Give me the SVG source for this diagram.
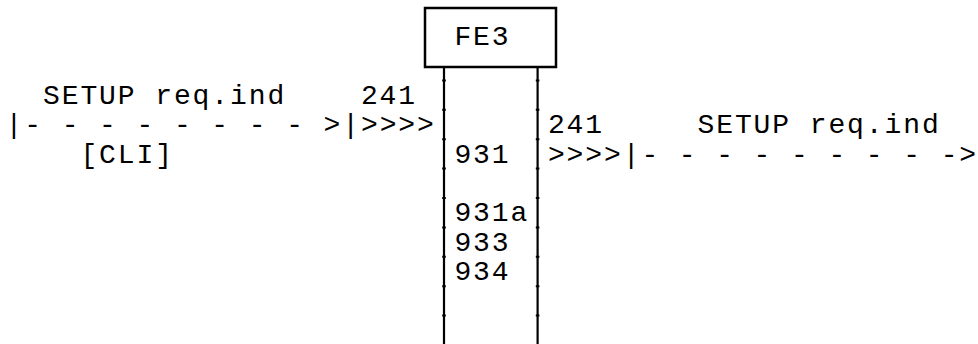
<svg xmlns="http://www.w3.org/2000/svg" width="978" height="344" viewBox="0 0 978 344">
<style>
text{font-family:"Liberation Mono","DejaVu Sans Mono",monospace;font-size:28px;letter-spacing:1.9px;fill:#000;white-space:pre}
.box{fill:#fff;stroke:#000;stroke-width:2.5}
.life{stroke:#000;stroke-width:2.2;fill:none}
.tick{stroke:#000;stroke-width:3.6;fill:none;stroke-dasharray:2 27.4;stroke-dashoffset:-12.4}
</style>
<rect width="978" height="344" fill="#fff"/>
<g id="FE3">
<rect class="box" x="425" y="8" width="131" height="59"/>
<text x="454.4" y="45">FE3</text>
<line class="life" x1="444" y1="67" x2="444" y2="344"/>
<line class="life" x1="537.6" y1="67" x2="537.6" y2="344"/>
<line class="tick" x1="444" y1="67" x2="444" y2="344"/>
<line class="tick" x1="537.6" y1="67" x2="537.6" y2="344"/>
<text x="454.4" y="162.6">931</text>
<text x="454.4" y="221.4">931a</text>
<text x="454.4" y="250.8">933</text>
<text x="454.4" y="280.2">934</text>
</g>
<g id="connectors">
<g id="msg-in">
<text x="43" y="103.8">SETUP req.ind</text>
<text x="360.9" y="103.8">241</text>
<text x="5.6" y="133.2" xml:space="preserve">|- - - - - - - - &gt;|&gt;&gt;&gt;&gt;</text>
<text x="80.4" y="162.6">[CLI]</text>
</g>
<g id="msg-out">
<text x="547.9" y="133.2">241</text>
<text x="697.5" y="133.2">SETUP req.ind</text>
<text x="547.9" y="162.6" xml:space="preserve">&gt;&gt;&gt;&gt;|- - - - - - - - -&gt;</text>
</g>
</g>
</svg>
